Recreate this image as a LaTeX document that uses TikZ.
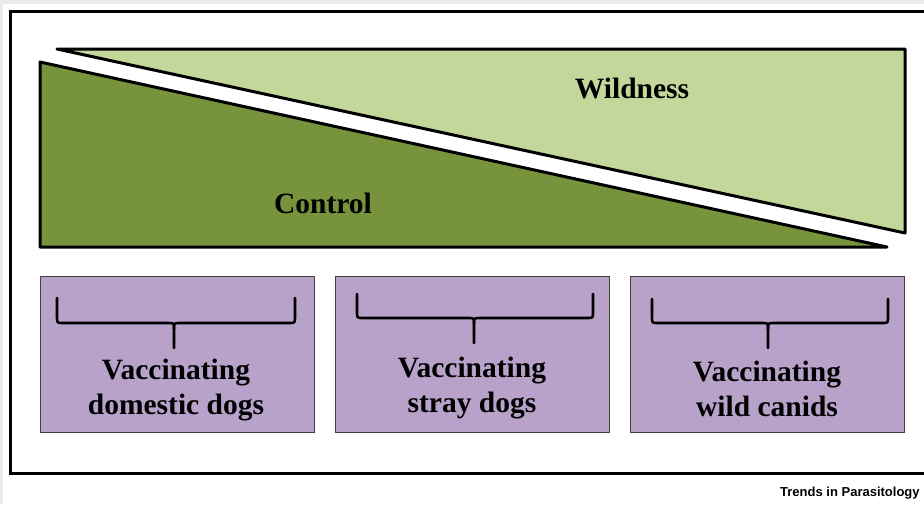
\documentclass[tikz,border=0pt]{standalone}
\usepackage{fontspec}
\setmainfont{Liberation Serif}
\newfontfamily\trendsfont{Liberation Sans}
\definecolor{lightgreen}{HTML}{C4D79B}
\definecolor{darkgreen}{HTML}{77933C}
\definecolor{lilac}{HTML}{B8A2C9}
\definecolor{stripgray}{HTML}{EBEBED}
\definecolor{boxedge}{HTML}{404040}
\tikzset{
  outline/.style={draw=black, line width=3pt, line join=round},
  optbox/.style={rectangle, fill=lilac, draw=boxedge, line width=0.8pt, minimum width=274pt, minimum height=156pt, inner sep=0pt},
  bigtext/.style={font=\fontsize{29.5}{35}\selectfont\bfseries, inner sep=0pt, align=center},
  bracestyle/.style={draw=black, line width=2.6pt, line cap=round, line join=round},
}
\newcommand{\downbrace}[6]{% L R T H P C
  \draw[bracestyle] (#1,#3) -- (#1,#4-6) .. controls (#1,#4) .. (#1+6,#4) -- (#6-6,#4) .. controls (#6,#4) .. (#6,#4+6) -- (#6,#5);
  \draw[bracestyle] (#2,#3) -- (#2,#4-6) .. controls (#2,#4) .. (#2-6,#4) -- (#6+6,#4) .. controls (#6,#4) .. (#6,#4+6);
}
\begin{document}
\begin{tikzpicture}[x=1pt, y=-1pt]
\useasboundingbox (0,0) rectangle (924,504);
\fill[white] (0,0) rectangle (924,504);
\fill[stripgray] (0,0) rectangle (924,4);
\fill[stripgray] (0,0) rectangle (3,504);
% outer frame
\draw[black, line width=3pt] (940,11) -- (10.5,11) -- (10.5,473.5) -- (940,473.5);
% triangles
\filldraw[outline, fill=lightgreen] (57,49) -- (905,49) -- (905,233) -- cycle;
\filldraw[outline, fill=darkgreen] (40,62) -- (887,247) -- (40,247) -- cycle;
\node[bigtext, anchor=base] (wild) at (632,98) {Wildness};
\node[bigtext, anchor=base] (ctrl) at (323,213) {Control};
% boxes
\node[optbox] (b1) at (177,354) {};
\node[optbox] (b2) at (472.5,354) {};
\node[optbox] (b3) at (767,354) {};
\downbrace{57}{295}{298}{323}{348}{174}
\downbrace{357}{593}{294}{318}{343}{474}
\downbrace{652}{888}{299}{323}{348}{768}
\node[bigtext, anchor=base] (t1) at (176,414) {Vaccinating\\domestic dogs};
\node[bigtext, anchor=base] (t2) at (472,412) {Vaccinating\\stray dogs};
\node[bigtext, anchor=base] (t3) at (767,416) {Vaccinating\\wild canids};
\node[anchor=base west, inner sep=0pt, font=\trendsfont\bfseries\fontsize{13}{14}\selectfont] (journal) at (780,496) {Trends in Parasitology};
\end{tikzpicture}
\end{document}
